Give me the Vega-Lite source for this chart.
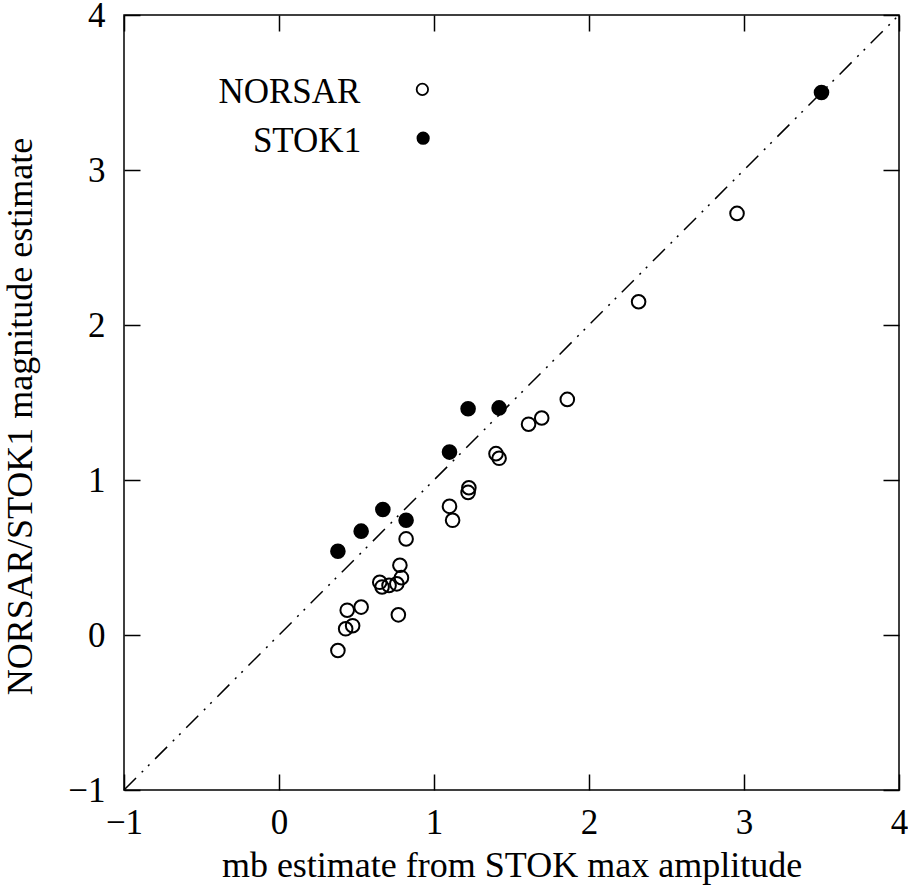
{
  "$schema": "https://vega.github.io/schema/vega-lite/v6.json",
  "width": 775,
  "height": 775,
  "autosize": "none",
  "padding": {"left": 124, "top": 15, "right": 9, "bottom": 100},
  "background": "white",
  "config": {
    "view": {"stroke": "black", "strokeWidth": 1.5},
    "font": "'Liberation Serif', 'Times New Roman', serif",
    "axis": {
      "domain": false,
      "grid": false,
      "tickSize": -16,
      "tickColor": "black",
      "tickWidth": 1.5,
      "labelFont": "'Liberation Serif', 'Times New Roman', serif",
      "labelFontSize": 35,
      "labelColor": "black",
      "labelFlush": false,
      "labelOverlap": false,
      "titleFont": "'Liberation Serif', 'Times New Roman', serif",
      "titleFontSize": 36,
      "titleFontWeight": "normal",
      "titleColor": "black"
    }
  },
  "datasets": {
    "pts": [
      {"series": "NORSAR", "mb": 0.82, "est": 0.62},
      {"series": "NORSAR", "mb": 0.78, "est": 0.45},
      {"series": "NORSAR", "mb": 0.79, "est": 0.37},
      {"series": "NORSAR", "mb": 0.76, "est": 0.33},
      {"series": "NORSAR", "mb": 0.71, "est": 0.32},
      {"series": "NORSAR", "mb": 0.665, "est": 0.31},
      {"series": "NORSAR", "mb": 0.65, "est": 0.34},
      {"series": "NORSAR", "mb": 0.53, "est": 0.18},
      {"series": "NORSAR", "mb": 0.44, "est": 0.16},
      {"series": "NORSAR", "mb": 0.475, "est": 0.06},
      {"series": "NORSAR", "mb": 0.43, "est": 0.04},
      {"series": "NORSAR", "mb": 0.38, "est": -0.1},
      {"series": "NORSAR", "mb": 0.77, "est": 0.13},
      {"series": "NORSAR", "mb": 1.1, "est": 0.83},
      {"series": "NORSAR", "mb": 1.12, "est": 0.74},
      {"series": "NORSAR", "mb": 1.225, "est": 0.95},
      {"series": "NORSAR", "mb": 1.22, "est": 0.92},
      {"series": "NORSAR", "mb": 1.4, "est": 1.17},
      {"series": "NORSAR", "mb": 1.42, "est": 1.14},
      {"series": "NORSAR", "mb": 1.86, "est": 1.52},
      {"series": "NORSAR", "mb": 1.695, "est": 1.4},
      {"series": "NORSAR", "mb": 1.61, "est": 1.36},
      {"series": "NORSAR", "mb": 2.32, "est": 2.15},
      {"series": "NORSAR", "mb": 2.955, "est": 2.72},
      {"series": "STOK1", "mb": 0.38, "est": 0.54},
      {"series": "STOK1", "mb": 0.53, "est": 0.67},
      {"series": "STOK1", "mb": 0.67, "est": 0.81},
      {"series": "STOK1", "mb": 0.82, "est": 0.74},
      {"series": "STOK1", "mb": 1.1, "est": 1.18},
      {"series": "STOK1", "mb": 1.22, "est": 1.46},
      {"series": "STOK1", "mb": 1.42, "est": 1.465},
      {"series": "STOK1", "mb": 3.5, "est": 3.5}
    ],
    "diag": [
      {"mb": -1, "est": -1},
      {"mb": 4, "est": 4}
    ],
    "key": [
      {"series": "NORSAR", "mb": 0.925, "est": 3.52},
      {"series": "STOK1", "mb": 0.93, "est": 3.205}
    ]
  },
  "layer": [
    {
      "data": {"name": "diag"},
      "mark": {"type": "line", "color": "black", "strokeWidth": 1.5, "strokeDash": [17, 8, 2, 7, 2, 8]},
      "encoding": {
        "x": {
          "field": "mb", "type": "quantitative",
          "scale": {"domain": [-1, 4], "nice": false, "zero": false},
          "axis": {"orient": "bottom", "values": [-1, 0, 1, 2, 3, 4], "labelPadding": 31, "title": "mb estimate from STOK max amplitude", "titlePadding": 8}
        },
        "y": {
          "field": "est", "type": "quantitative",
          "scale": {"domain": [-1, 4], "nice": false, "zero": false},
          "axis": {"orient": "left", "values": [-1, 0, 1, 2, 3, 4], "labelPadding": 35, "title": "NORSAR/STOK1 magnitude estimate", "titlePadding": 28, "titleY": 401}
        }
      }
    },
    {
      "data": {"name": "pts"},
      "transform": [{"filter": "datum.series === 'NORSAR'"}],
      "mark": {"type": "point", "shape": "circle", "filled": false, "stroke": "black", "strokeWidth": 2, "size": 185, "opacity": 1},
      "encoding": {
        "x": {"field": "mb", "type": "quantitative",
          "axis": {"orient": "top", "values": [-1, 0, 1, 2, 3, 4], "labels": false, "title": null}},
        "y": {"field": "est", "type": "quantitative",
          "axis": {"orient": "right", "values": [-1, 0, 1, 2, 3, 4], "labels": false, "title": null}}
      }
    },
    {
      "data": {"name": "pts"},
      "transform": [{"filter": "datum.series === 'STOK1'"}],
      "mark": {"type": "point", "shape": "circle", "filled": true, "fill": "black", "stroke": "black", "strokeWidth": 2, "size": 185, "opacity": 1},
      "encoding": {
        "x": {"field": "mb", "type": "quantitative", "axis": null},
        "y": {"field": "est", "type": "quantitative", "axis": null}
      }
    },
    {
      "data": {"name": "key"},
      "transform": [{"filter": "datum.series === 'NORSAR'"}],
      "mark": {"type": "point", "shape": "circle", "filled": false, "stroke": "black", "strokeWidth": 1.8, "size": 130, "opacity": 1},
      "encoding": {
        "x": {"field": "mb", "type": "quantitative", "axis": null},
        "y": {"field": "est", "type": "quantitative", "axis": null}
      }
    },
    {
      "data": {"name": "key"},
      "transform": [{"filter": "datum.series === 'STOK1'"}],
      "mark": {"type": "point", "shape": "circle", "filled": true, "fill": "black", "stroke": "black", "strokeWidth": 1.8, "size": 130, "opacity": 1},
      "encoding": {
        "x": {"field": "mb", "type": "quantitative", "axis": null},
        "y": {"field": "est", "type": "quantitative", "axis": null}
      }
    },
    {
      "data": {"name": "key"},
      "mark": {"type": "text", "align": "right", "baseline": "alphabetic", "dx": -62, "dy": 14, "fontSize": 35, "font": "'Liberation Serif', 'Times New Roman', serif", "color": "black"},
      "encoding": {
        "x": {"field": "mb", "type": "quantitative", "axis": null},
        "y": {"field": "est", "type": "quantitative", "axis": null},
        "text": {"field": "series"}
      }
    }
  ],
  "resolve": {"axis": {"x": "independent", "y": "independent"}}
}
